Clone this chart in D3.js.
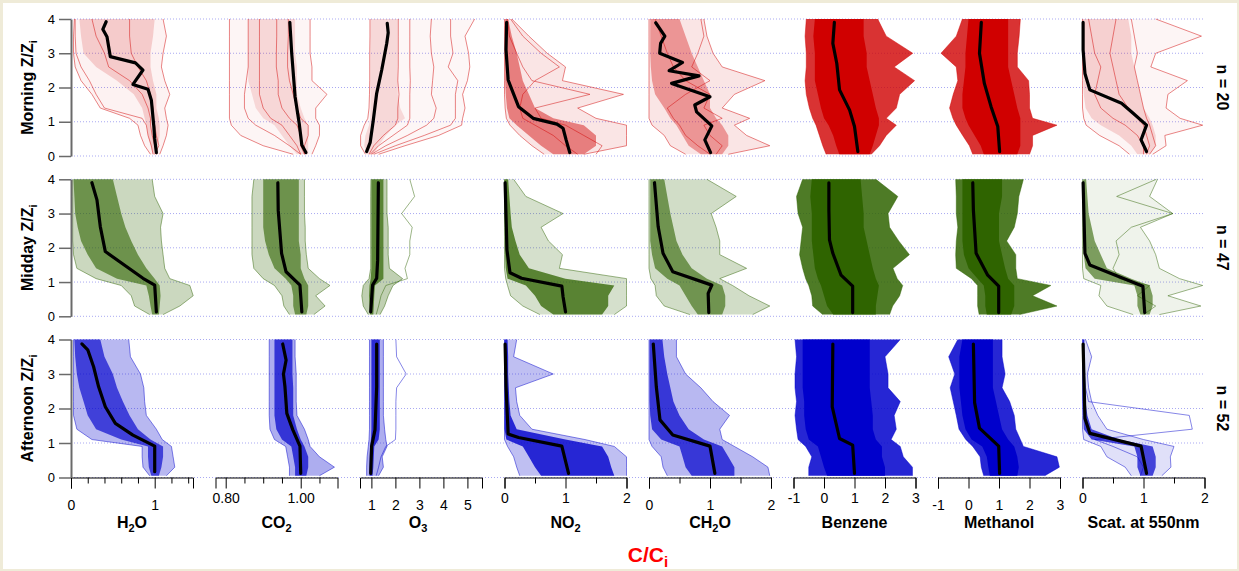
<!DOCTYPE html>
<html>
<head>
<meta charset="utf-8">
<script src="https://cdn.jsdelivr.net/npm/d3@7"></script>
<style>
html, body { margin: 0; padding: 0; background: #efebd8; }
svg { display: block; }
text { font-family: "Liberation Sans", Arial, sans-serif; }
</style>
</head>
<body>
<svg id="chart" width="1239" height="571"></svg>
<script>
// ---- data ----
const species = ["H_2O", "CO_2", "O_3", "NO_2", "CH_2O", "Benzene", "Methanol", "Scat. at 550nm"];
const periods = ["Morning Z/Z_i", "Midday Z/Z_i", "Afternoon Z/Z_i"];
const counts = ["n = 20", "n = 47", "n = 52"];
const xDomains = [[0, 1.4576], [0.7728, 1.0981], [0.525, 5.608], [0, 2], [0, 2], [-1, 3], [-1, 3], [0, 2]];
const xTicks = [[0, 0.2, 0.4, 0.6, 0.8, 1, 1.2, 1.4], [0.8, 0.85, 0.9, 0.95, 1, 1.05], [1, 2, 3, 4, 5],
  [0, 0.5, 1, 1.5, 2], [0, 0.5, 1, 1.5, 2], [-1, 0, 1, 2, 3], [-1, 0, 1, 2, 3], [0, 0.5, 1, 1.5, 2]];
const xTickLabels = [["0", "", "", "", "", "1", "", ""], ["0.80", "", "", "", "1.00", ""], ["1", "2", "3", "4", "5"],
  ["0", "", "1", "", "2"], ["0", "", "1", "", "2"], ["-1", "0", "1", "2", "3"], ["-1", "0", "1", "2", "3"], ["0", "", "1", "", "2"]];
const yTicks = [0, 1, 2, 3, 4];

// heights (Z/Zi) at which the spread of the profiles is read
const zLevels = [0.05, 0.3, 0.6, 0.9, 1.1, 1.4, 1.8, 2.2, 2.6, 3.0, 3.5, 4.0];

// morning: outer spread, dense core, mean profile [C/Ci, Z/Zi], single traces
const morningLo = [
  [0.95,0.88,0.83,0.8,0.7,0.35,0.25,0.12,0.05,0.03,0.03,0.04],
  [0.98,0.9,0.84,0.815,0.81,0.81,0.81,0.81,0.81,0.81,0.81,0.81],
  [0.75,0.55,0.55,0.7,0.85,0.9,0.92,0.93,0.93,0.93,0.94,0.94],
  [0.65,0.45,0.25,0.09,0.03,0.01,0,0,0,0,0,0],
  [0.6,0.35,0.25,0.05,0,0,0,0,0,0,0,0],
  [0.07,-0.04,-0.15,-0.26,-0.37,-0.48,-0.58,-0.62,-0.58,-0.58,-0.62,-0.58],
  [0.14,0.03,-0.19,-0.4,-0.51,-0.62,-0.5,-0.35,-0.4,-0.9,-0.4,-0.2],
  [0.77,0.6,0.28,0.06,0.02,0,0,0,0,0,0,0]
];
const morningHi = [
  [1.06,1.1,1.14,1.16,1.14,1.12,1.18,1.12,1.08,1.1,1.14,1.1],
  [1.03,1.04,1.05,1.05,1.04,1.04,1.07,1.03,1.03,1.025,1.025,1.025],
  [1.3,2.4,3.8,4.76,4.8,4.9,4.8,5.0,5.1,5.05,4.9,5.3],
  [1.3,2.0,2.0,2.0,1.5,1.2,1.95,0.95,1.0,0.7,0.4,0.12],
  [1.3,1.98,1.6,1.4,1.65,1.2,1.4,1.9,1.2,1.05,0.95,0.9],
  [1.55,1.82,2.04,2.37,2.04,2.37,2.48,2.97,2.3,2.91,2.04,1.76],
  [2.0,2.1,2.1,2.9,2.1,2.0,2.0,1.97,1.6,1.6,1.66,1.7],
  [1.15,1.37,1.35,1.97,1.6,1.37,1.4,1.72,1.12,1.2,1.95,1.2]
];
const morningCoreLo = [
  [0.98,0.95,0.92,0.9,0.88,0.85,0.75,0.55,0.3,0.15,0.12,0.1],
  [0.99,0.97,0.95,0.93,0.9,0.88,0.87,0.86,0.86,0.86,0.86,0.86],
  [0.8,0.7,0.75,0.9,0.95,0.96,0.96,0.96,0.96,0.96,0.96,0.96],
  [0.8,0.6,0.4,0.2,0.08,0.04,0.02,0.01,0.01,0.01,0.01,0.01],
  [0.85,0.65,0.55,0.45,0.35,0.25,0.1,0.05,0.03,0.02,0.02,0.02],
  [0.5,0.4,0.3,0.15,0.0,-0.1,-0.2,-0.3,-0.3,-0.3,-0.35,-0.3],
  [0.5,0.4,0.2,0.0,-0.1,-0.2,-0.2,-0.15,-0.1,-0.1,-0.05,0.0],
  [0.9,0.8,0.6,0.3,0.15,0.05,0.02,0.01,0.01,0.01,0.01,0.01]
];
const morningCoreHi = [
  [1.04,1.04,1.06,1.06,1.05,1.02,1.02,0.98,0.95,0.95,0.98,1.0],
  [1.02,1.02,1.02,1.02,1.01,1.0,0.99,0.99,0.99,0.985,0.985,0.985],
  [1.1,1.3,1.6,2.0,2.4,2.2,2.1,2.1,2.1,2.1,2.1,2.1],
  [1.3,1.5,1.5,1.3,0.8,0.5,0.4,0.3,0.25,0.2,0.12,0.06],
  [1.2,1.3,1.3,1.2,1.1,1.0,1.0,0.9,0.8,0.7,0.6,0.5],
  [1.5,1.6,1.7,1.8,1.8,1.7,1.6,1.5,1.4,1.4,1.3,1.3],
  [1.6,1.7,1.7,1.7,1.7,1.6,1.5,1.4,1.3,1.3,1.3,1.3],
  [1.1,1.2,1.2,1.15,1.1,1.0,0.95,0.9,0.85,0.8,0.8,0.75]
];
const morningMean = [
  [[1.02,0.1],[1.0,0.5],[0.99,0.86],[0.96,1.63],[0.92,1.95],[0.74,2.09],[0.86,2.51],[0.77,2.72],[0.47,2.9],[0.43,3.48],[0.38,3.7],[0.42,3.92]],
  [[1.014,0.1],[1.003,0.32],[0.996,0.95],[0.985,1.73],[0.976,3.0],[0.971,3.9]],
  [[0.8,0.13],[0.95,0.4],[1.08,1.05],[1.22,1.83],[1.43,2.51],[1.64,3.29],[1.7,3.6],[1.66,3.87]],
  [[1.07,0.1],[1.01,0.47],[0.96,0.81],[0.86,0.93],[0.47,1.1],[0.23,1.44],[0.145,1.83],[0.06,2.22],[0.025,3.1],[0.035,3.9]],
  [[1.01,0.1],[0.915,0.47],[1.03,0.88],[0.78,1.29],[0.75,1.49],[1.0,1.73],[0.37,2.12],[0.82,2.34],[0.33,2.49],[0.55,2.73],[0.175,3.0],[0.19,3.29],[0.26,3.5],[0.11,3.89]],
  [[1.11,0.13],[1.0,0.86],[0.84,1.34],[0.51,1.93],[0.42,2.7],[0.29,3.29],[0.34,3.9]],
  [[1.02,0.13],[0.96,0.86],[0.74,1.44],[0.52,2.12],[0.36,3.0],[0.42,3.9]],
  [[1.05,0.13],[0.96,0.47],[1.05,0.9],[0.83,1.25],[0.64,1.54],[0.12,1.93],[0.04,2.41],[0.01,3.1],[0.01,3.9]]
];
const morningTraces = [
  [[0.98,0.96,0.92,0.9,0.85,0.4,0.3,0.22,0.12,0.06,0.05,0.05],
   [1.02,1.0,0.97,0.95,0.95,0.92,0.85,0.7,0.45,0.4,0.3,0.25],
   [1.0,1.05,1.02,1.0,0.98,0.98,0.95,0.9,0.8,0.72,0.7,0.7]],
  [[1.0,0.97,0.93,0.88,0.86,0.85,0.85,0.855,0.86,0.86,0.86,0.86],
   [1.0,0.99,0.97,0.95,0.92,0.9,0.89,0.89,0.89,0.89,0.89,0.89],
   [1.01,1.0,1.0,0.99,0.97,0.95,0.94,0.94,0.935,0.935,0.936,0.936],
   [1.01,1.01,1.02,1.02,1.0,0.99,0.98,0.97,0.965,0.965,0.967,0.967]],
  [[0.9,1.1,1.5,2.0,2.1,2.1,2.15,2.1,2.12,2.12,2.12,2.12],
   [0.95,1.3,1.9,2.5,2.6,2.6,2.6,2.62,2.6,2.6,2.6,2.6],
   [1.0,1.6,2.5,3.3,3.6,3.7,3.5,3.55,3.6,3.5,3.45,3.5],
   [1.1,2.0,3.2,4.3,4.5,4.5,4.5,4.6,4.2,4.4,4.3,4.3]],
  [[1.2,1.0,0.8,0.5,0.3,0.25,0.3,0.5,0.9,0.6,0.3,0.1],
   [1.5,1.6,1.3,1.0,0.6,0.5,1.4,0.45,0.3,0.2,0.08,0.05]],
  [[1.0,0.8,0.6,0.5,0.4,0.3,0.6,1.0,0.7,0.8,0.9,0.85],
   [1.1,1.2,1.0,0.9,1.2,0.9,1.0,0.6,0.4,0.3,0.2,0.1]],
  [],
  [],
  [[1.0,1.0,0.9,0.7,0.5,0.3,0.2,0.25,0.3,0.2,0.15,0.1],
   [1.05,1.1,1.05,1.0,0.9,0.75,0.6,0.55,0.5,0.45,0.5,0.55],
   [1.1,1.2,1.15,1.1,1.05,1.0,0.95,0.9,0.85,0.9,0.85,0.8]]
];

// midday
const middayLo = [
  [0.94,0.76,0.72,0.6,0.3,0.07,0.03,0.02,0.02,0.02,0.02,0.02],
  [0.97,0.955,0.95,0.93,0.9,0.875,0.87,0.87,0.87,0.87,0.87,0.875],
  [0.87,0.66,0.6,0.66,0.9,0.97,0.97,0.97,0.97,0.97,0.97,0.98],
  [0.58,0.3,0.1,0.05,0.02,0,0,0,0,0,0,0],
  [0.67,0.25,0.12,0.1,0.03,0,0,0,0,0,0,0],
  [-0.04,-0.37,-0.4,-0.5,-0.6,-0.7,-0.8,-0.75,-0.7,-0.85,-0.9,-0.7],
  [0.35,0.3,0.3,0.3,0.1,-0.4,-0.42,-0.4,-0.35,-0.4,-0.4,-0.42],
  [0.83,0.4,0.27,0.3,0.02,0,0,0,0,0,0,0]
];
const middayHi = [
  [1.1,1.3,1.46,1.42,1.18,1.12,1.1,1.08,1.07,1.1,1.0,0.97],
  [1.035,1.065,1.04,1.078,1.05,1.02,1.015,1.012,1.012,1.01,1.01,1.01],
  [1.36,1.55,1.7,1.9,2.3,1.75,1.7,1.7,1.7,1.65,1.65,1.65],
  [1.8,2.0,2.0,2.0,2.0,0.9,0.95,0.72,0.6,0.96,0.35,0.15],
  [1.7,1.98,1.64,1.37,1.16,1.6,1.16,1.16,1.1,1.02,1.43,0.95],
  [2.15,2.25,2.48,2.58,2.4,2.26,2.8,2.45,2.15,2.1,2.42,1.7],
  [1.67,2.9,2.1,2.7,1.6,1.55,1.55,1.25,1.5,1.6,1.65,1.8],
  [1.26,1.94,1.4,1.97,1.59,1.26,1.2,1.1,0.95,1.48,1.1,1.23]
];
const middayCoreLo = [
  [0.97,0.95,0.93,0.9,0.55,0.3,0.2,0.12,0.08,0.05,0.04,0.03],
  [0.985,0.98,0.98,0.975,0.96,0.93,0.915,0.905,0.9,0.9,0.9,0.9],
  [0.95,0.92,0.9,0.92,0.97,1.0,1.0,1.0,1.0,1.0,1.0,1.0],
  [0.8,0.6,0.5,0.35,0.05,0.02,0.01,0.01,0.01,0,0,0],
  [0.8,0.7,0.6,0.5,0.3,0.1,0.05,0.02,0.02,0.02,0.02,0.02],
  [0.3,0.1,0.0,-0.1,-0.2,-0.3,-0.35,-0.4,-0.4,-0.4,-0.45,-0.4],
  [0.6,0.55,0.55,0.5,0.3,0.0,-0.15,-0.2,-0.2,-0.2,-0.2,-0.2],
  [0.95,0.9,0.9,0.85,0.2,0.05,0.02,0.01,0.01,0.01,0.01,0.01]
];
const middayCoreHi = [
  [1.05,1.06,1.07,1.06,1.0,0.9,0.8,0.72,0.65,0.6,0.55,0.5],
  [1.015,1.02,1.02,1.02,1.01,1.0,1.0,0.995,0.995,0.995,0.995,0.995],
  [1.08,1.1,1.12,1.15,1.5,1.5,1.5,1.5,1.5,1.5,1.5,1.5],
  [1.6,1.7,1.7,1.8,1.0,0.4,0.25,0.18,0.12,0.1,0.08,0.06],
  [1.2,1.25,1.25,1.2,0.95,0.7,0.55,0.45,0.4,0.35,0.3,0.25],
  [1.7,1.7,1.75,1.8,1.7,1.6,1.5,1.4,1.3,1.3,1.25,1.2],
  [1.4,1.5,1.5,1.5,1.3,1.2,1.1,1.0,1.0,1.0,1.1,1.1],
  [1.1,1.15,1.15,1.1,0.8,0.4,0.3,0.2,0.15,0.1,0.08,0.06]
];
const middayMean = [
  [[1.02,0.13],[1.0,0.91],[0.86,1.11],[0.41,1.89],[0.35,2.62],[0.31,3.4],[0.25,3.9]],
  [[1.003,0.13],[0.998,0.91],[0.961,1.3],[0.949,1.84],[0.94,3.1],[0.939,3.9]],
  [[0.97,0.13],[1.05,0.91],[1.22,1.11],[1.26,1.64],[1.29,3.9]],
  [[1.0,0.13],[0.96,0.57],[0.94,0.88],[0.28,1.11],[0.09,1.27],[0.04,1.94],[0.01,3.9]],
  [[0.98,0.11],[0.97,0.67],[1.03,0.91],[0.39,1.3],[0.23,1.84],[0.15,2.62],[0.09,3.9]],
  [[0.94,0.11],[0.94,0.88],[0.56,1.2],[0.29,1.84],[0.18,2.23],[0.16,3.1],[0.16,3.9]],
  [[0.99,0.11],[0.99,0.88],[0.63,1.2],[0.25,1.84],[0.16,3.1],[0.14,3.9]],
  [[1.02,0.11],[0.99,0.88],[0.12,1.5],[0.04,1.84],[0.01,3.9]]
];
const middayTraces = [
  [], [],
  [[1.2,1.3,1.4,1.6,2.5,2.4,2.6,2.6,2.7,2.26,2.8,2.6]],
  [], [], [], [],
  [[1.0,1.2,0.9,1.1,0.6,0.5,0.6,0.55,0.8,1.48,0.56,1.21]]
];

// afternoon
const afternoonLo = [
  [0.94,0.86,0.85,0.85,0.25,0.07,0.03,0.03,0.03,0.03,0.03,0.03],
  [0.97,0.97,0.965,0.96,0.93,0.918,0.916,0.916,0.916,0.916,0.916,0.916],
  [0.8,0.8,0.82,0.87,0.9,0.92,0.92,0.92,0.92,0.92,0.92,0.92],
  [0.25,0.2,0.15,0.05,0,0,0,0,0,0,0,0],
  [0.3,0.23,0.2,0.05,0,0,0,0,0,0,0,0],
  [-0.5,-0.5,-0.4,-0.6,-0.85,-0.9,-0.95,-0.9,-0.95,-0.95,-0.9,-0.95],
  [0.5,0.42,0.38,0.14,-0.09,-0.31,-0.4,-0.5,-0.6,-0.45,-0.65,-0.35],
  [0.8,0.7,0.4,0.3,0.02,0,0,0,0,0,0,0]
];
const afternoonHi = [
  [1.14,1.24,1.22,1.2,1.09,1.02,0.9,0.88,0.87,0.83,0.71,0.69],
  [1.05,1.09,1.05,1.025,1.02,1.01,0.99,0.988,0.988,0.988,0.985,0.985],
  [1.3,1.5,1.45,1.65,1.6,1.55,1.5,1.5,1.5,1.5,1.5,1.5],
  [2.0,2.0,2.0,1.8,1.32,0.45,0.25,0.2,0.18,0.8,0.15,0.2],
  [1.98,1.95,1.7,1.4,1.2,1.16,1.32,1.05,0.85,0.6,0.45,0.45],
  [2.9,2.9,2.6,2.5,2.2,2.37,2.3,2.5,2.1,2.1,2.0,2.5],
  [2.5,2.98,2.9,1.8,1.7,1.55,1.5,1.35,1.1,1.2,1.1,1.1],
  [1.3,1.45,1.44,1.5,1.0,0.4,0.25,0.15,0.1,0.08,0.15,0.05]
];
const afternoonCoreLo = [
  [0.96,0.93,0.92,0.92,0.6,0.3,0.2,0.15,0.1,0.07,0.05,0.04],
  [0.985,0.985,0.98,0.975,0.95,0.935,0.93,0.93,0.93,0.93,0.93,0.93],
  [0.92,0.92,0.93,0.95,0.98,1.0,1.0,1.0,1.0,1.0,1.0,1.0],
  [0.6,0.5,0.4,0.3,0.03,0,0,0,0,0,0,0],
  [0.7,0.6,0.55,0.5,0.2,0.05,0.02,0.01,0.01,0.01,0.01,0.01],
  [0.1,0.0,-0.1,-0.2,-0.5,-0.6,-0.65,-0.65,-0.7,-0.7,-0.7,-0.7],
  [0.7,0.65,0.6,0.45,0.1,-0.1,-0.2,-0.25,-0.3,-0.3,-0.3,-0.2],
  [0.95,0.9,0.9,0.85,0.15,0.02,0.01,0,0,0,0,0]
];
const afternoonCoreHi = [
  [1.05,1.08,1.1,1.1,0.95,0.8,0.7,0.62,0.55,0.5,0.4,0.35],
  [1.015,1.02,1.02,1.01,1.0,0.99,0.98,0.98,0.98,0.978,0.978,0.978],
  [1.05,1.08,1.1,1.12,1.3,1.35,1.35,1.35,1.35,1.35,1.35,1.35],
  [1.8,1.75,1.7,1.6,1.0,0.2,0.1,0.08,0.07,0.06,0.06,0.05],
  [1.4,1.4,1.3,1.2,0.9,0.65,0.5,0.4,0.35,0.3,0.25,0.22],
  [2.0,2.0,1.9,1.9,1.7,1.6,1.6,1.55,1.5,1.5,1.5,1.5],
  [1.6,1.65,1.6,1.5,1.3,1.1,1.0,0.9,0.8,0.8,0.8,0.8],
  [1.15,1.2,1.2,1.15,0.6,0.15,0.08,0.05,0.04,0.03,0.03,0.03]
];
const afternoonMean = [
  [[1.0,0.17],[1.0,0.91],[0.74,1.23],[0.53,1.57],[0.41,2.05],[0.33,2.63],[0.27,3.21],[0.2,3.7],[0.13,3.87]],
  [[1.0,0.12],[0.998,0.91],[0.979,1.38],[0.963,1.86],[0.958,2.63],[0.954,3.0],[0.961,3.4],[0.952,3.87]],
  [[0.97,0.12],[1.01,0.91],[1.15,1.38],[1.22,2.63],[1.22,3.87]],
  [[1.05,0.12],[0.94,0.91],[0.23,1.16],[0.06,1.26],[0.025,2.63],[0.01,3.87]],
  [[1.08,0.12],[1.0,0.91],[0.39,1.23],[0.18,1.67],[0.12,2.63],[0.07,3.87]],
  [[1.0,0.12],[0.94,0.94],[0.51,1.13],[0.27,2.05],[0.29,3.87]],
  [[1.02,0.12],[0.99,0.91],[0.36,1.43],[0.2,2.17],[0.16,3.87]],
  [[1.05,0.12],[0.96,0.91],[0.12,1.28],[0.04,1.71],[0.01,3.87]]
];
const afternoonTraces = [
  [], [],
  [[1.2,1.3,1.4,1.6,2.0,2.02,2.02,2.02,2.05,2.45,2.05,2.02]],
  [], [], [], [],
  [[0.95,1.0,0.9,0.5,0.2,1.8,1.75,0.1,0.05,0.03,0.02,0.02]]
];

// ---- layout & style ----
const rows = [
  {lo: morningLo, hi: morningHi, cLo: morningCoreLo, cHi: morningCoreHi, mean: morningMean, traces: morningTraces},
  {lo: middayLo, hi: middayHi, cLo: middayCoreLo, cHi: middayCoreHi, mean: middayMean, traces: middayTraces},
  {lo: afternoonLo, hi: afternoonHi, cLo: afternoonCoreLo, cHi: afternoonCoreHi, mean: afternoonMean, traces: afternoonTraces}
];
const rowColors = ["#d00000", "#2f6400", "#0000cc"];
const rowTop = [19, 179.3, 339.5];
const rowH = [137, 137, 138];
const colW = 122;
const colLeft = i => 71 + 144.5 * i;
// [outer, core] fill opacity per panel
const alphas = [
  [[0.05,0.16],[0.04,0.12],[0.035,0.12],[0.1,0.45],[0.1,0.35],[0.8,1],[0.8,1],[0.04,0.15]],
  [[0.25,0.6],[0.25,0.6],[0.3,0.7],[0.2,0.75],[0.22,0.6],[0.85,1],[0.85,1],[0.08,0.6]],
  [[0.28,0.65],[0.32,0.7],[0.32,0.75],[0.25,0.8],[0.28,0.7],[0.85,1],[0.85,1],[0.12,0.7]]
];
const lowLabel = [true, false, true, false, true, false, true, false];

const svg = d3.select("#chart");
svg.append("rect").attr("x", 3).attr("y", 3).attr("width", 1234).attr("height", 566).attr("fill", "#fff");

function rich(t, str, subSize, shift) {
  let i = 0, prevSub = false;
  while (i < str.length) {
    let sub = false, s = "";
    if (str[i] === "_") { sub = true; s = str[i + 1]; i += 2; }
    else { while (i < str.length && str[i] !== "_") { s += str[i]; i++; } }
    const sp = t.append("tspan").text(s);
    if (sub) sp.attr("font-size", subSize).attr("dy", shift);
    else if (prevSub) sp.attr("dy", -shift);
    prevSub = sub;
  }
}

const defs = svg.append("defs");

rows.forEach((row, r) => {
  const y = d3.scaleLinear().domain([0, 4]).range([rowTop[r] + rowH[r], rowTop[r]]);
  const color = rowColors[r];

  // dotted grid
  svg.append("g").selectAll("line").data(yTicks).join("line")
    .attr("x1", 71).attr("x2", 1205)
    .attr("y1", d => y(d)).attr("y2", d => y(d))
    .attr("stroke", "#a9a9f2").attr("stroke-width", 1).attr("stroke-dasharray", "1,2");

  species.forEach((sp, c) => {
    const x = d3.scaleLinear().domain(xDomains[c]).range([colLeft(c), colLeft(c) + colW]);
    const id = `clip${r}${c}`;
    defs.append("clipPath").attr("id", id).append("rect")
      .attr("x", colLeft(c) - 2).attr("y", rowTop[r] - 2).attr("width", colW + 4).attr("height", rowH[r] + 4);
    const g = svg.append("g").attr("clip-path", `url(#${id})`);

    const band = (lo, hi) => d3.area()
      .y((d, i) => y(zLevels[i]))
      .x0((d, i) => x(lo[i])).x1((d, i) => x(hi[i]))(zLevels);
    const prof = vals => d3.line().x(d => x(d)).y((d, i) => y(zLevels[i]))(vals);

    g.append("path").attr("d", band(row.lo[c], row.hi[c]))
      .attr("fill", color).attr("fill-opacity", alphas[r][c][0]);
    g.append("path").attr("d", band(row.cLo[c], row.cHi[c]))
      .attr("fill", color).attr("fill-opacity", alphas[r][c][1]);
    [row.lo[c], row.hi[c]].concat(row.traces[c]).forEach(v => {
      g.append("path").attr("d", prof(v)).attr("fill", "none")
        .attr("stroke", color).attr("stroke-width", 0.8).attr("stroke-opacity", 0.6);
    });

    g.append("path")
      .attr("d", d3.line().x(d => x(d[0])).y(d => y(d[1]))(row.mean[c]))
      .attr("fill", "none").attr("stroke", "#000").attr("stroke-width", 3.2)
      .attr("stroke-linejoin", "round").attr("stroke-linecap", "round");

    if (r === 2) {
      const ax = svg.append("g").attr("transform", `translate(0,${y(0)})`)
        .call(d3.axisBottom(x).tickValues(xTicks[c]).tickSizeOuter(0).tickSize(11)
          .tickFormat((d, i) => xTickLabels[c][i]));
      ax.select(".domain").attr("stroke", "#000");
      ax.selectAll(".tick line").attr("stroke", "#000")
        .attr("y2", (d, i) => xTickLabels[c][i] === "" ? 6 : 11);
      ax.selectAll(".tick text").attr("fill", "#000").attr("font-size", 14)
        .attr("font-family", "Liberation Sans, Arial, sans-serif")
        .attr("dy", 0).attr("y", lowLabel[c] ? 32 : 25.5);
    }
  });

  // left axis
  const ay = svg.append("g").attr("transform", "translate(71,0)")
    .call(d3.axisLeft(y).tickValues(yTicks).tickFormat(d3.format("d"))
      .tickSize(12).tickSizeOuter(0).tickPadding(4));
  ay.select(".domain").attr("stroke", "#6a6a6a").attr("stroke-width", 2);
  ay.selectAll(".tick line").attr("stroke", "#6a6a6a").attr("stroke-width", 1.5);
  ay.selectAll(".tick text").attr("fill", "#000").attr("font-size", 13)
    .attr("font-family", "Liberation Sans, Arial, sans-serif");

  const mid = rowTop[r] + rowH[r] / 2;
  const lt = svg.append("text").attr("transform", `translate(33,${mid}) rotate(-90)`)
    .attr("text-anchor", "middle").attr("font-size", 16).attr("font-weight", "bold");
  rich(lt, periods[r], 11, 4);

  svg.append("text").attr("transform", `translate(1217,${mid}) rotate(90)`)
    .attr("text-anchor", "middle").attr("font-size", 16).attr("font-weight", "bold")
    .text(counts[r]);
});

// species titles
species.forEach((sp, c) => {
  const t = svg.append("text").attr("x", colLeft(c) + 61 - (c === 2 ? 3 : 0)).attr("y", 527.5)
    .attr("text-anchor", "middle").attr("font-size", 16).attr("font-weight", "bold");
  rich(t, sp, 11, 4);
});

const xl = svg.append("text").attr("x", 648).attr("y", 562).attr("text-anchor", "middle")
  .attr("font-size", 21).attr("font-weight", "bold").attr("fill", "#f00");
rich(xl, "C/C_i", 15, 5);
</script>
</body>
</html>
